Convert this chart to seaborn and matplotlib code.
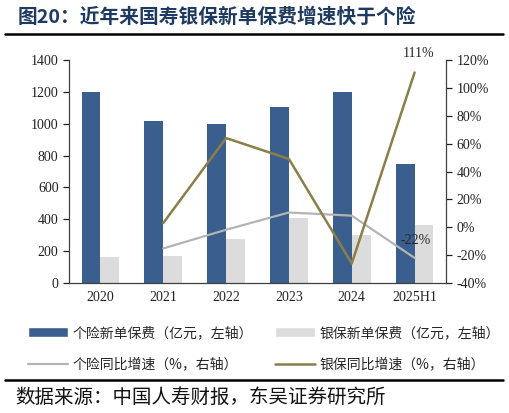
import numpy as np
import pandas as pd
import matplotlib
matplotlib.use("Agg")
import matplotlib.pyplot as plt
import seaborn as sns
from matplotlib.lines import Line2D
from matplotlib.patches import Patch

# data
years = ["2020", "2021", "2022", "2023", "2024", "2025H1"]
indiv_premium = [1200, 1018, 1000, 1106, 1197, 744]      # 个险新单保费, 亿元
bank_premium = [163, 168, 275, 411, 304, 365]            # 银保新单保费, 亿元
indiv_growth = [np.nan, -15.2, -1.8, 10.6, 8.3, -22.0]   # 个险同比增速, %
bank_growth = [np.nan, 3.0, 64.0, 49.0, -26.0, 111.0]    # 银保同比增速, %

BLUE = "#3a5f8f"
LIGHT = "#dcdcdc"
GREY_LINE = "#b4b4b4"
OLIVE = "#8c7e48"
TITLE_BLUE = "#1f3a60"

sns.set_style("white")
plt.rcParams["font.family"] = ["Liberation Serif", "Noto Sans CJK SC", "DejaVu Sans"]
cjk = ["Noto Sans CJK SC", "DejaVu Sans"]

bars = pd.DataFrame({
    "year": years * 2,
    "value": indiv_premium + bank_premium,
    "kind": ["个险新单保费（亿元，左轴）"] * len(years) + ["银保新单保费（亿元，左轴）"] * len(years),
})

fig = plt.figure(figsize=(5.09, 4.13), dpi=100)
ax = fig.add_axes([69 / 509, 1 - 283 / 413, (446 - 69) / 509, (283 - 60) / 413])

sns.barplot(data=bars, x="year", y="value", hue="kind", order=years,
            palette=[BLUE, LIGHT], width=0.6, saturation=1, ax=ax,
            legend=False, edgecolor="none")
ax.set_ylim(0, 1400)
ax.set_yticks(range(0, 1401, 200))
ax.set_xlim(-0.5, len(years) - 0.5)
ax.set_xlabel("")
ax.set_ylabel("")

ax2 = ax.twinx()
pos = np.arange(len(years))
sns.lineplot(x=pos, y=indiv_growth, color=GREY_LINE, linewidth=1.6, ax=ax2)
sns.lineplot(x=pos, y=bank_growth, color=OLIVE, linewidth=1.8, ax=ax2)
ax2.set_ylim(-40, 120)
ax2.set_yticks(range(-40, 121, 20))
ax2.set_yticklabels([f"{v}%" for v in range(-40, 121, 20)])
ax2.set_xlim(-0.5, len(years) - 0.5)

# labels on last points
ax2.annotate("111%", (pos[-1], bank_growth[-1]), xytext=(3, 9),
             textcoords="offset points", ha="center", va="bottom", fontsize=10)
ax2.annotate("-22%", (pos[-1], indiv_growth[-1]), xytext=(1, 8),
             textcoords="offset points", ha="center", va="bottom", fontsize=10)

for a in (ax, ax2):
    for s in a.spines.values():
        s.set_color("#404040")
        s.set_linewidth(0.9)
    a.spines["top"].set_visible(False)
    a.tick_params(labelsize=10, colors="#222222", direction="out", length=4, width=0.9)
ax.spines["right"].set_visible(False)
ax2.spines["left"].set_visible(False)
ax2.spines["bottom"].set_visible(False)

# x ticks sit between categories, labels at centers
ax.set_xticks(pos)
ax.set_xticklabels(years)
ax.set_xticks(np.arange(-0.5, len(years)), minor=True)
ax.tick_params(axis="x", which="major", length=0, pad=6)
ax.tick_params(axis="x", which="minor", length=4, width=0.9, color="#404040")
ax.grid(False)
ax2.grid(False)

# order so the two columns read row by row like the original
handles = [
    Patch(facecolor=BLUE, label="个险新单保费（亿元，左轴）"),
    Line2D([], [], color=GREY_LINE, lw=1.6, label="个险同比增速（%，右轴）"),
    Patch(facecolor=LIGHT, label="银保新单保费（亿元，左轴）"),
    Line2D([], [], color=OLIVE, lw=1.8, label="银保同比增速（%，右轴）"),
]
fig.legend(handles=handles, ncol=2, loc="upper left",
           bbox_to_anchor=(28 / 509, 1 - 326 / 413), frameon=False,
           prop={"family": cjk, "size": 10}, handlelength=2.9, handleheight=0.7,
           handletextpad=0.3, columnspacing=1.6, labelspacing=1.25, borderpad=0,
           borderaxespad=0)

fig.text(18 / 509, 1 - 17 / 413, "图20：近年来国寿银保新单保费增速快于个险",
         family=cjk, fontsize=14.2, fontweight="bold", color=TITLE_BLUE,
         ha="left", va="center")
fig.add_artist(Line2D([5 / 509, 503 / 509], [1 - 34 / 413] * 2, color="black", lw=1.8))
fig.add_artist(Line2D([5 / 509, 503 / 509], [1 - 380 / 413] * 2, color="black", lw=1.8))
fig.text(15 / 509, 1 - 397 / 413, "数据来源：中国人寿财报，东吴证券研究所",
         family=cjk, fontsize=14, color="#111111", ha="left", va="center")

fig.savefig("out.png", dpi=100)
